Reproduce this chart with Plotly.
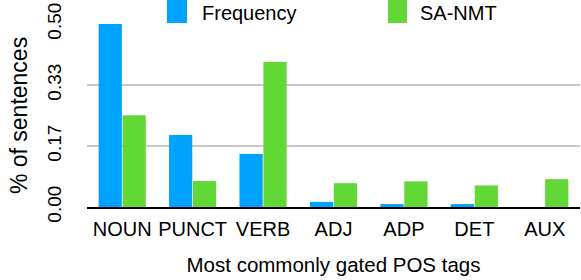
import plotly.graph_objects as go

categories = ["NOUN", "PUNCT", "VERB", "ADJ", "ADP", "DET", "AUX"]
frequency = [0.50, 0.197, 0.145, 0.014, 0.008, 0.008, 0.0]
sa_nmt = [0.251, 0.071, 0.396, 0.065, 0.070, 0.059, 0.076]
y_tickvals = [0, 1/6, 1/3, 0.5]
y_ticktext = ["0.00", "0.17", "0.33", "0.50"]

BLUE = "#00A2FF"
GREEN = "#61D836"
FONT = "Liberation Sans, Arial, Helvetica, sans-serif"

W, H = 581, 280
L, R, T, B = 87, 1, 24, 73
pw, ph = W - L - R, H - T - B

def px(x):
    return (x - L) / pw

def py(y):
    return (H - B - y) / ph

fig = go.Figure()
fig.add_trace(go.Bar(x=categories, y=frequency, name="Frequency",
                     marker=dict(color=BLUE, line=dict(width=0))))
fig.add_trace(go.Bar(x=categories, y=sa_nmt, name="SA-NMT",
                     marker=dict(color=GREEN, line=dict(width=0))))

shapes = []
annotations = []
for (x0, x1, col, label, tx) in [(167, 187, BLUE, "Frequency", 200),
                                  (388, 407, GREEN, "SA-NMT", 418)]:
    shapes.append(dict(type="rect", xref="paper", yref="paper",
                       x0=px(x0), x1=px(x1), y0=py(23), y1=py(0),
                       fillcolor=col, line=dict(width=0), layer="above"))
    annotations.append(dict(text=label, xref="paper", yref="paper",
                            x=px(tx), y=py(13), xanchor="left", yanchor="middle",
                            showarrow=False, font=dict(size=20, color="black", family=FONT)))

fig.update_layout(
    width=W, height=H,
    margin=dict(l=L, r=R, t=T, b=B),
    paper_bgcolor="white", plot_bgcolor="white",
    barmode="group", bargap=0.32, bargroupgap=0.03,
    showlegend=False,
    font=dict(family=FONT, size=20, color="black"),
    shapes=shapes, annotations=annotations,
    xaxis=dict(
        showline=True, linecolor="black", linewidth=2,
        showgrid=False, ticks="", tickfont=dict(size=20),
        ticklabelstandoff=3,
        title=dict(text="Most commonly gated POS tags", font=dict(size=20.5), standoff=19),
        automargin=False,
    ),
    yaxis=dict(
        range=[0, 0.5], tickvals=y_tickvals, ticktext=y_ticktext,
        tickangle=-90, tickfont=dict(size=19),
        showgrid=True, gridcolor="#c8c8c8", gridwidth=1.5,
        zeroline=False, showline=False, ticks="",
        ticklabelstandoff=21,
        title=dict(text="% of sentences", font=dict(size=23), standoff=10),
        automargin=False,
    ),
)

fig.write_html("out.html", config={"displayModeBar": False},
               post_script="document.body.style.margin='0';")
